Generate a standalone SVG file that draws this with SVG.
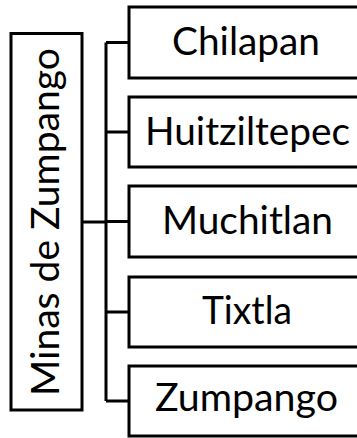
<svg xmlns="http://www.w3.org/2000/svg" width="357" height="438" viewBox="0 0 357 438">
<style>
.box{fill:#fff;stroke:#000;stroke-width:3}
.lbl{font-family:Lato,"Open Sans","Liberation Sans",sans-serif;font-size:38px;fill:#000}
.con{fill:none;stroke:#000;stroke-width:3}
</style>
<rect width="357" height="438" fill="#fff"/>
<g id="connectors">
<path class="con" d="M82 222H106M106 42.5V401M106 42.5H129M106 132H129M106 221.5H129M106 312H129M106 401H129"/>
</g>
<g id="root">
<rect class="box" x="11" y="33.5" width="71" height="376.5"/>
<text class="lbl" transform="rotate(-90)" x="-396" y="59" textLength="348" lengthAdjust="spacingAndGlyphs">Minas de Zumpango</text>
</g>
<g id="chilapan">
<rect class="box" x="129" y="7" width="236" height="71"/>
<text class="lbl" x="172" y="55" textLength="148" lengthAdjust="spacingAndGlyphs">Chilapan</text>
</g>
<g id="huitziltepec">
<rect class="box" x="129" y="97" width="236" height="70"/>
<text class="lbl" x="145" y="145" textLength="205" lengthAdjust="spacingAndGlyphs">Huitziltepec</text>
</g>
<g id="muchitlan">
<rect class="box" x="129" y="186" width="236" height="71"/>
<text class="lbl" x="162" y="234" textLength="171" lengthAdjust="spacingAndGlyphs">Muchitlan</text>
</g>
<g id="tixtla">
<rect class="box" x="129" y="277" width="236" height="70"/>
<text class="lbl" x="202" y="324" textLength="90" lengthAdjust="spacingAndGlyphs">Tixtla</text>
</g>
<g id="zumpango">
<rect class="box" x="129" y="366" width="236" height="70"/>
<text class="lbl" x="155" y="411" textLength="183" lengthAdjust="spacingAndGlyphs">Zumpango</text>
</g>
</svg>
